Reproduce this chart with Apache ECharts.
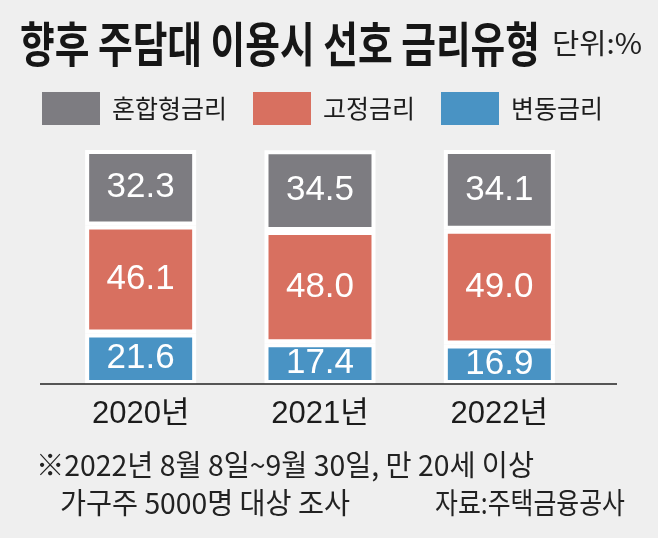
<!DOCTYPE html>
<html>
<head>
<meta charset="utf-8">
<script src="https://cdn.jsdelivr.net/npm/echarts@6/dist/echarts.min.js"></script>
<style>
  html, body { margin: 0; padding: 0; background: #efefef; }
  #chart { width: 658px; height: 538px; }
</style>
</head>
<body>
<div id="chart"></div>
<script>
// ---- data ----
const categories = ['2020년', '2021년', '2022년'];
const seriesNames = ['혼합형금리', '고정금리', '변동금리'];
const mixedRate = [32.3, 34.5, 34.1];     // 혼합형금리
const fixedRate = [46.1, 48.0, 49.0];     // 고정금리
const variableRate = [21.6, 17.4, 16.9];  // 변동금리

const titleText = '향후 주담대 이용시 선호 금리유형';
const unitText = '단위:%';
const note1Text = '※2022년 8월 8일~9월 30일, 만 20세 이상';
const note2Text = '가구주 5000명 대상 조사';
const sourceText = '자료:주택금융공사';

// ---- helpers ----
const CJK = '"Noto Sans CJK KR"';
const NUMFONT = '"Liberation Sans", "Noto Sans CJK KR", sans-serif';
const mctx = document.createElement('canvas').getContext('2d');
function fitText(text, x, y, width, size, weight, color) {
  mctx.font = (weight || 'normal') + ' ' + size + 'px ' + CJK;
  const w = mctx.measureText(text).width;
  return {
    type: 'text', x: x, y: y, scaleX: width / w, scaleY: 1,
    style: {
      text: text, x: 0, y: 0, fontSize: size, fontWeight: weight || 'normal',
      fontFamily: 'Noto Sans CJK KR', fill: color || '#1c1c1c',
      align: 'left', verticalAlign: 'middle'
    }
  };
}

const colors = { mixed: '#7d7c81', fixed: '#d87060', variable: '#4993c4' };

const chart = echarts.init(document.getElementById('chart'), null, { renderer: 'canvas' });

const barCommon = {
  type: 'bar',
  stack: 'total',
  barWidth: 111,
  itemStyle: { borderColor: '#ffffff', borderWidth: 4 },
  label: {
    show: true, position: 'inside', color: '#ffffff',
    fontSize: 35, fontFamily: NUMFONT,
    formatter: p => p.value.toFixed(1)
  }
};

chart.setOption({
  backgroundColor: '#efefef',
  animation: false,
  legend: {
    data: seriesNames,
    left: 37, top: 87,
    itemWidth: 58, itemHeight: 33, itemGap: 26,
    icon: 'rect',
    itemStyle: { borderWidth: 0 },
    textStyle: { fontSize: 25, fontFamily: 'Noto Sans CJK KR', color: '#1c1c1c', padding: [0, 0, 0, 7] }
  },
  grid: { left: 51, right: 69, top: 150, bottom: 154 },
  xAxis: {
    type: 'category',
    data: categories,
    axisLine: { show: false },
    axisTick: { show: false },
    axisLabel: { fontSize: 31, fontFamily: NUMFONT, color: '#1c1c1c', margin: 15 }
  },
  yAxis: { type: 'value', min: 0, max: 100, show: false, splitLine: { show: false } },
  series: [
    Object.assign({}, barCommon, { name: '변동금리', data: variableRate, itemStyle: Object.assign({}, barCommon.itemStyle, { color: colors.variable }) }),
    Object.assign({}, barCommon, { name: '고정금리', data: fixedRate, itemStyle: Object.assign({}, barCommon.itemStyle, { color: colors.fixed }) }),
    Object.assign({}, barCommon, { name: '혼합형금리', data: mixedRate, itemStyle: Object.assign({}, barCommon.itemStyle, { color: colors.mixed }) })
  ],
  graphic: [
    fitText(titleText, 20, 44, 520, 48, 'bold', '#161616'),
    fitText(unitText, 552, 43, 90, 28, 'normal', '#222'),
    fitText(note1Text, 36, 465, 498, 29, 'normal', '#222'),
    fitText(note2Text, 60, 503, 290, 29, 'normal', '#222'),
    fitText(sourceText, 435, 503, 190, 29, 'normal', '#222'),
    { type: 'line', z: 100, shape: { x1: 40, y1: 384, x2: 617, y2: 384 }, style: { stroke: '#222', lineWidth: 1.5 } }
  ]
});
</script>
</body>
</html>
